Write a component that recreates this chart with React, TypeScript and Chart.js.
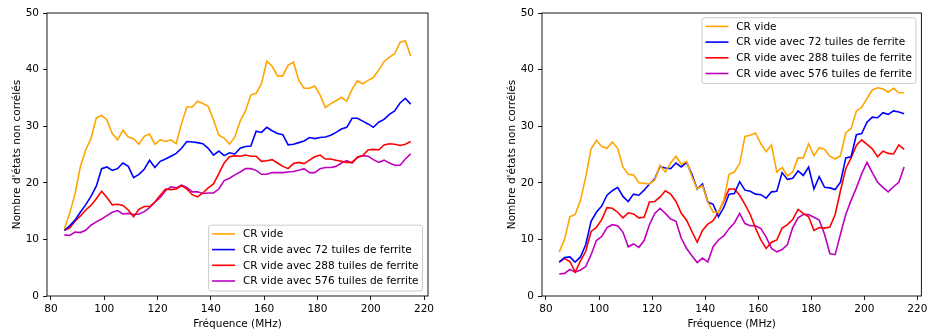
import React, { useEffect, useRef } from "react";
import { Chart, registerables } from "chart.js";

Chart.register(...registerables);

const freq = [85, 87, 89, 91, 93, 95, 97, 99, 101, 103, 105, 107, 109, 111, 113, 115, 117, 119, 121, 123, 125, 127, 129, 131, 133, 135, 137, 139, 141, 143, 145, 147, 149, 151, 153, 155, 157, 159, 161, 163, 165, 167, 169, 171, 173, 175, 177, 179, 181, 183, 185, 187, 189, 191, 193, 195, 197, 199, 201, 203, 205, 207, 209, 211, 213, 215];

const seriesLabels = [
  "CR vide",
  "CR vide avec 72 tuiles de ferrite",
  "CR vide avec 288 tuiles de ferrite",
  "CR vide avec 576 tuiles de ferrite",
];

const leftVide = [11.8, 14.6, 18, 22.8, 25.8, 27.8, 31.5, 31.9, 31.1, 28.7, 27.6, 29.3, 28.1, 27.8, 26.8, 28.2, 28.6, 26.8, 27.6, 27.3, 27.6, 26.9, 30.5, 33.4, 33.4, 34.4, 34, 33.5, 31.1, 28.4, 27.9, 26.8, 28.1, 30.9, 32.7, 35.5, 35.8, 37.5, 41.5, 40.6, 38.9, 38.9, 40.8, 41.3, 38.1, 36.7, 36.7, 37.1, 35.5, 33.3, 34, 34.5, 35.1, 34.4, 36.5, 38, 37.5, 38.1, 38.6, 39.9, 41.4, 42.2, 42.8, 44.8, 45.1, 42.4];
const left72 = [11.6, 12.4, 13.4, 14.8, 16.1, 17.6, 19.4, 22.5, 22.8, 22.2, 22.5, 23.5, 22.9, 20.9, 21.5, 22.4, 24, 22.7, 23.8, 24.2, 24.7, 25.2, 26.1, 27.3, 27.2, 27.1, 26.9, 26.1, 24.9, 25.6, 24.8, 25.3, 25.1, 26.1, 26.4, 26.5, 29.1, 28.9, 29.8, 29.2, 28.7, 28.5, 26.7, 26.8, 27.1, 27.4, 28, 27.8, 28, 28.1, 28.4, 28.9, 29.5, 29.8, 31.4, 31.4, 30.9, 30.4, 29.8, 30.7, 31.2, 32.1, 32.7, 34.1, 34.9, 33.9];
const left288 = [11.6, 12, 13.2, 14.1, 15.2, 16, 17.2, 18.5, 17.4, 16.1, 16.2, 16, 15.2, 14, 15.3, 15.8, 15.8, 16.6, 17.8, 18.9, 18.8, 18.9, 19.5, 18.9, 17.9, 17.5, 18.2, 19.1, 19.8, 21.6, 23.5, 24.6, 24.8, 24.7, 24.9, 24.7, 24.7, 23.8, 23.9, 24.1, 23.5, 22.9, 22.5, 23.4, 23.6, 23.4, 24, 24.6, 24.9, 24.2, 24.2, 24, 23.8, 23.6, 23.6, 24.5, 24.8, 25.8, 25.9, 25.8, 26.7, 26.9, 26.8, 26.6, 26.8, 27.3];
const left576 = [10.8, 10.7, 11.3, 11.2, 11.6, 12.5, 13.1, 13.6, 14.2, 14.8, 15.1, 14.5, 14.6, 14.4, 14.5, 14.9, 15.6, 16.6, 17.4, 18.6, 19.3, 19.1, 19.6, 19.2, 18.4, 18.4, 18.1, 18.2, 18.2, 18.9, 20.4, 20.8, 21.4, 21.9, 22.5, 22.5, 22.2, 21.5, 21.5, 21.8, 21.8, 21.8, 21.9, 22, 22.2, 22.5, 21.8, 21.8, 22.5, 22.7, 22.7, 22.9, 23.5, 23.9, 23.5, 24.5, 24.8, 24.7, 24.1, 23.6, 24, 23.5, 23.1, 23.1, 24.2, 25.1];

const rightVide = [7.8, 10, 14, 14.4, 16.9, 21.1, 26, 27.5, 26.4, 26.1, 27.2, 26.1, 22.8, 21.5, 21.4, 20, 19.9, 19.8, 20.5, 23.1, 21.9, 23.5, 24.7, 23.3, 23.8, 21.1, 18.9, 19.5, 16.6, 14.8, 14.8, 16.9, 21.5, 21.9, 23.4, 28.2, 28.4, 28.8, 26.9, 25.5, 26.7, 21.9, 22.7, 21.2, 21.9, 24.4, 24.4, 26.9, 24.8, 26.2, 25.9, 24.7, 24.2, 24.8, 28.8, 29.6, 32.7, 33.3, 34.9, 36.4, 36.8, 36.6, 36, 36.7, 35.9, 35.9];
const right72 = [6, 6.8, 6.9, 6, 6.9, 9.1, 13.2, 14.8, 15.9, 17.8, 18.6, 19.2, 17.6, 16.7, 18, 17.8, 18.7, 19.8, 20.7, 22.9, 22.6, 22.5, 23.5, 22.8, 23.6, 21.5, 18.9, 19.8, 16.6, 16.2, 14, 15.6, 18, 18.1, 20.2, 18.7, 18.5, 18, 17.9, 17.3, 18.4, 18.5, 21.8, 20.6, 20.8, 22.1, 21.3, 22.8, 18.9, 21.1, 19.2, 19.1, 18.8, 20.1, 24.4, 24.6, 28.5, 28.7, 30.7, 31.6, 31.5, 32.4, 32.1, 32.7, 32.5, 32.2];
const right288 = [6, 6.6, 6.1, 4.2, 6.2, 7.9, 11.4, 12.1, 13.5, 15.6, 15.5, 14.8, 13.8, 14.7, 14.5, 13.8, 13.9, 16.6, 16.7, 17.5, 18.6, 18, 16.7, 14.6, 13.4, 11.4, 9.5, 11.6, 12.7, 13.3, 14.8, 16.7, 18.9, 18.9, 17.8, 16.2, 14.4, 12, 9.9, 8.4, 9.5, 9.9, 12, 12.6, 13.5, 15.3, 14.6, 14, 11.6, 12.1, 12, 12.2, 14.4, 18.6, 22.5, 24.4, 26.6, 27.6, 26.8, 26, 24.6, 25.6, 25.2, 25.1, 26.7, 25.9];
const right576 = [3.9, 4, 4.7, 4.2, 4.6, 5.2, 7.3, 9.8, 10.5, 12.1, 12.6, 12.4, 11.3, 8.7, 9.2, 8.6, 9.8, 12.6, 14.6, 15.5, 14.6, 13.6, 13.2, 10.2, 8.4, 7.1, 5.9, 6.7, 6, 8.7, 9.9, 10.6, 11.9, 12.9, 14.6, 12.8, 12.4, 12.4, 11.9, 10.4, 8.4, 7.8, 8.2, 9.1, 12.1, 13.8, 14.4, 14.4, 13.9, 13.4, 10.9, 7.5, 7.3, 10.9, 14.4, 16.9, 19.1, 21.6, 23.6, 21.8, 20.1, 19.2, 18.4, 19.3, 20.1, 22.8];

const xTicks = [80, 100, 120, 140, 160, 180, 200, 220];
const yTicks = [0, 10, 20, 30, 40, 50];
const xTitle = "Fréquence (MHz)";
const yTitle = "Nombre d'états non corrélés";

const colors = ["#FFA500", "#0000FF", "#FF0000", "#BF00BF"];
const FONT = '"DejaVu Sans", sans-serif';
const FS = 10.5;

const framePlugin = {
  id: "frameBox",
  afterDatasetsDraw(chart: any) {
    const { ctx, chartArea: a } = chart;
    ctx.save();
    ctx.strokeStyle = "#000";
    ctx.lineWidth = 0.9;
    ctx.strokeRect(a.left, a.top, a.right - a.left, a.bottom - a.top);
    ctx.restore();
  },
};

const legendPlugin = {
  id: "boxLegend",
  afterDraw(chart: any, _args: any, opts: any) {
    const { ctx, chartArea: a } = chart;
    ctx.save();
    ctx.font = `${FS}px ${FONT}`;
    const items = chart.data.datasets.map((d: any) => ({ label: d.label, color: d.borderColor }));
    const maxW = Math.max(...items.map((i: any) => ctx.measureText(i.label).width));
    const rowH = 15.7;
    const w = 34.3 + maxW + 4;
    const h = 8.7 + (items.length - 1) * rowH + 10;
    const left = a.right - 5.5 - w;
    const top = opts.corner === "lr" ? a.bottom - 5 - h : a.top + 4.7;
    ctx.beginPath();
    if (ctx.roundRect) ctx.roundRect(left, top, w, h, 2.5);
    else ctx.rect(left, top, w, h);
    ctx.fillStyle = "rgba(255,255,255,0.8)";
    ctx.fill();
    ctx.strokeStyle = "#cccccc";
    ctx.lineWidth = 1;
    ctx.stroke();
    items.forEach((it: any, i: number) => {
      const y = top + 8.7 + i * rowH;
      ctx.beginPath();
      ctx.strokeStyle = it.color;
      ctx.lineWidth = 1.6;
      ctx.moveTo(left + 3.5, y);
      ctx.lineTo(left + 26.5, y);
      ctx.stroke();
      ctx.fillStyle = "#000";
      ctx.textBaseline = "middle";
      ctx.textAlign = "left";
      ctx.fillText(it.label, left + 34.3, y + 0.5);
    });
    ctx.restore();
  },
};

function makeConfig(series: number[][], corner: string, padLeft: number, padRight: number): any {
  return {
    type: "line",
    data: {
      datasets: series.map((vals, i) => ({
        label: seriesLabels[i],
        data: freq.map((f, j) => ({ x: f, y: vals[j] })),
        borderColor: colors[i],
        backgroundColor: colors[i],
        borderWidth: 1.6,
        pointRadius: 0,
        tension: 0,
        fill: false,
      })),
    },
    options: {
      responsive: false,
      animation: false,
      devicePixelRatio: 1,
      layout: { padding: { top: 13, left: padLeft, right: padRight, bottom: 0 } },
      plugins: {
        legend: { display: false },
        tooltip: { enabled: false },
        boxLegend: { corner },
      },
      scales: {
        x: {
          type: "linear",
          min: 78.5,
          max: 221.5,
          afterBuildTicks: (s: any) => {
            s.ticks = xTicks.map((v) => ({ value: v }));
          },
          afterFit: (s: any) => {
            s.height = 33;
          },
          border: { display: false },
          grid: { display: true, drawOnChartArea: false, drawTicks: true, tickLength: 4, color: "#000", lineWidth: 0.9 },
          ticks: { color: "#000", font: { family: FONT, size: FS }, padding: 2.5, maxRotation: 0, autoSkip: false },
          title: { display: true, text: xTitle, color: "#000", font: { family: FONT, size: FS }, padding: { top: 0, bottom: -2 } },
        },
        y: {
          type: "linear",
          min: 0,
          max: 50,
          afterBuildTicks: (s: any) => {
            s.ticks = yTicks.map((v) => ({ value: v }));
          },
          afterFit: (s: any) => {
            s.width = 47;
          },
          border: { display: false },
          grid: { display: true, drawOnChartArea: false, drawTicks: true, tickLength: 4, color: "#000", lineWidth: 0.9 },
          ticks: { color: "#000", font: { family: FONT, size: FS }, padding: 4, autoSkip: false },
          title: { display: true, text: yTitle, color: "#000", font: { family: FONT, size: FS }, padding: { top: 10.5, bottom: 0 } },
        },
      },
    },
    plugins: [framePlugin, legendPlugin],
  };
}

function PlotCanvas(props: { series: number[][]; corner: string; left: number; padLeft: number; padRight: number }) {
  const ref = useRef<HTMLCanvasElement | null>(null);
  useEffect(() => {
    if (!ref.current) return;
    const chart = new Chart(ref.current, makeConfig(props.series, props.corner, props.padLeft, props.padRight));
    return () => chart.destroy();
  }, []);
  return (
    <canvas
      ref={ref}
      width={465}
      height={329}
      style={{ position: "absolute", left: props.left, top: 0, width: 465, height: 329 }}
    />
  );
}

export default function App() {
  return (
    <div style={{ position: "absolute", left: 0, top: 0, width: 930, height: 329, background: "#fff", overflow: "hidden" }}>
      <PlotCanvas series={[leftVide, left72, left288, left576]} corner="lr" left={0} padLeft={0} padRight={37} />
      <PlotCanvas series={[rightVide, right72, right288, right576]} corner="ur" left={465} padLeft={30} padRight={8} />
    </div>
  );
}
